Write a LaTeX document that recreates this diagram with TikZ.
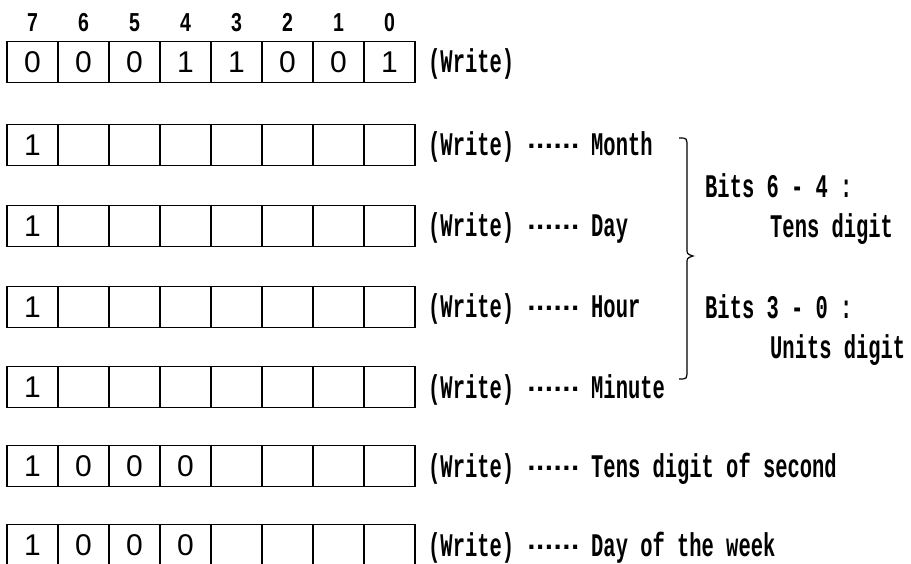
\documentclass[tikz,border=0pt]{standalone}
\usepackage{fontspec}
\newfontfamily\lblfont[FakeStretch=0.62]{Liberation Mono}
\newfontfamily\bitfont[FakeStretch=0.75]{Liberation Sans}
\newfontfamily\digfont{Liberation Sans}
\newfontfamily\dotfont{DejaVu Sans}
\begin{document}
\begin{tikzpicture}[x=1pt,y=-1pt,
  cell/.style={draw, line width=1.2pt, minimum width=51pt, minimum height=41pt,
    inner sep=0pt, font=\digfont\fontsize{30}{30}\selectfont},
  lbl/.style={anchor=base west, inner sep=0pt,
    font=\lblfont\bfseries\fontsize{33}{33}\selectfont},
  bitlbl/.style={anchor=base, inner sep=0pt,
    font=\bitfont\bfseries\fontsize{26}{26}\selectfont},
  dotlbl/.style={anchor=base west, inner sep=0pt,
    font=\dotfont\bfseries\fontsize{23}{23}\selectfont}]
\useasboundingbox (0,0) rectangle (911,564);

% bit numbers
\foreach \b [count=\i from 0] in {7,6,5,4,3,2,1,0}
  \node[bitlbl] (bit\b) at ({32.5+51*\i},32) {\b};

% row 1
\foreach \v [count=\i from 0] in {0,0,0,1,1,0,0,1}
  \node[cell] (ra\i) at ({32.5+51*\i},62) {\v};
\node[lbl] (wa) at (428,73) {(Write)};

% rows with labels
\foreach \r/\y/\a/\b/\c/\d/\txt in {
   b/145/1/{}/{}/{}/Month,
   c/226/1/{}/{}/{}/Day,
   d/307/1/{}/{}/{}/Hour,
   e/387/1/{}/{}/{}/Minute,
   f/466/1/0/0/0/Tens digit of second,
   g/545/1/0/0/0/Day of the week}{
  \foreach \v [count=\i from 0] in {\a,\b,\c,\d,{},{},{},{}}
    \node[cell] (r\r\i) at ({32.5+51*\i},\y) {\v};
  \node[lbl] (w\r) at (428,\y+11) {(Write)};
  \node[dotlbl] (dots\r) at (527,\y+4) {......};
  \node[lbl] (t\r) at (591,\y+11) {\txt};
}

% brace
\coordinate (brtop) at (679,138);
\coordinate (brtip) at (693,256);
\coordinate (brbot) at (679,379);
\draw[line width=1.2pt] (brtop) .. controls (687,138) .. (687,147) -- (687,248)
  .. controls (687,254) .. (brtip) .. controls (687,258) .. (687,264)
  -- (687,370) .. controls (687,379) .. (brbot);

\node[lbl] (bits64) at (705,198) {Bits 6 - 4 :};
\node[lbl] (tens) at (770,238) {Tens digit};
\node[lbl] (bits30) at (705,319) {Bits 3 - 0 :};
\node[lbl] (units) at (770,358) {Units digit};
\end{tikzpicture}
\end{document}
